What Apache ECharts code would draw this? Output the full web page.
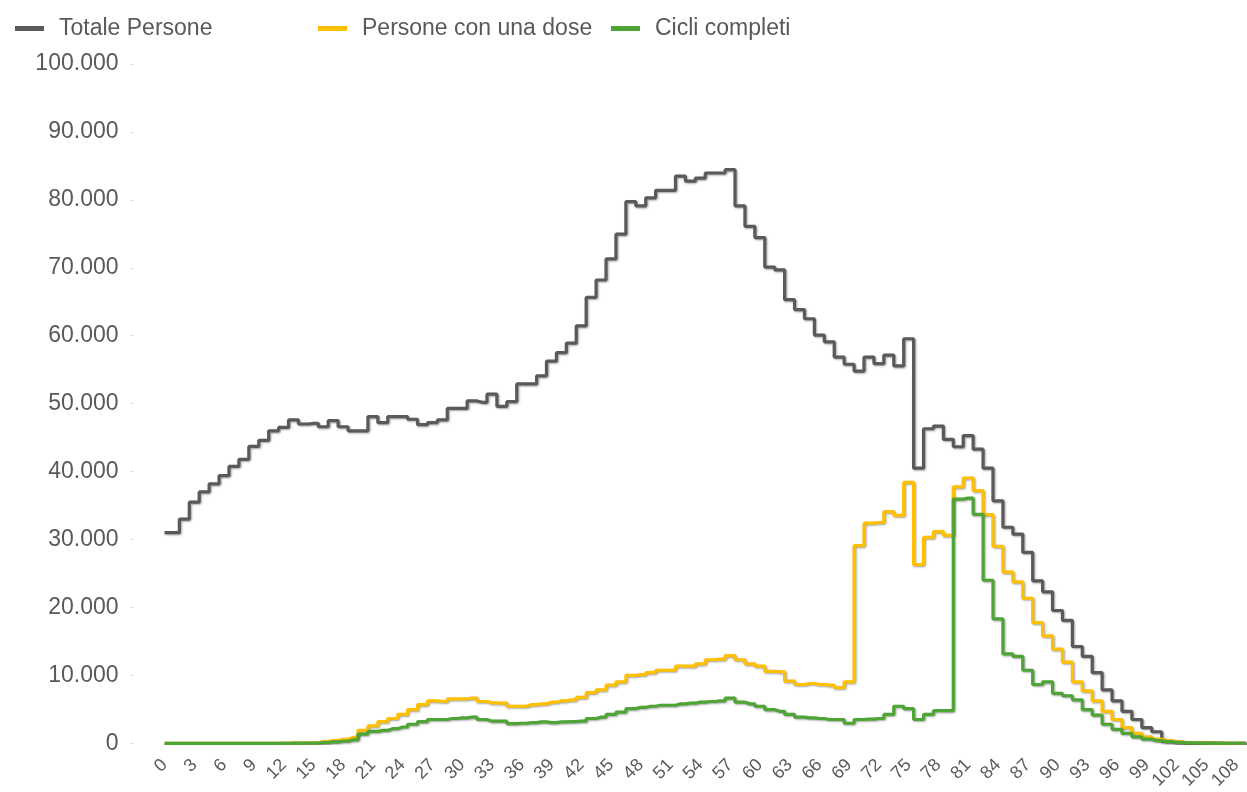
<!DOCTYPE html>
<html>
<head>
<meta charset="utf-8">
<title>Vaccinati per età</title>
<script src="https://cdn.jsdelivr.net/npm/echarts@6/dist/echarts.min.js"></script>
<style>
  html, body { margin: 0; padding: 0; background: #fff; }
  #chart { width: 1247px; height: 792px; }
</style>
</head>
<body>
<div id="chart"></div>
<script>
// età 0..109 (etichette ogni 3 anni)
const eta = []
for (let i = 0; i <= 109; i++) eta.push(String(i))

const totalePersone = [
  31000, 31000, 33000, 35500, 37000, 38200, 39400, 40750, 41800, 43700,
  44600, 46000, 46500, 47600, 47000, 47100, 46600, 47500, 46600, 46000,
  46000, 48100, 47200, 48100, 48100, 47700, 46900, 47200, 47600, 49300,
  49300, 50400, 50200, 51400, 49600, 50300, 52900, 52900, 54100, 56250,
  57500, 58900, 61450, 65650, 68200, 71300, 74950, 79750, 79100, 80300,
  81400, 81400, 83500, 82750, 83200, 83950, 83950, 84450, 79100, 76100,
  74450, 70100, 69700, 65300, 63850, 62500, 60100, 59100, 56850, 55800,
  54800, 56850, 55900, 57150, 55550, 59550, 40500, 46300, 46700, 44750,
  43650, 45300, 43300, 40500, 35700, 31800, 30800, 28100, 23900, 22300,
  19550, 18100, 14250, 12800, 10400, 7850, 6250, 4700, 3500, 2300,
  1700, 300, 150, 80, 40, 20, 10, 5, 3, 2
]

const personeUnaDose = [
  0, 0, 0, 0, 0, 0, 0, 0, 0, 0,
  0, 0, 10, 20, 40, 80, 250, 400, 580, 870,
  1900, 2550, 3200, 3650, 4250, 4950, 5700, 6250, 6150, 6550,
  6550, 6650, 6150, 5950, 5900, 5450, 5450, 5700, 5800, 6050,
  6250, 6400, 6750, 7450, 7850, 8550, 9050, 10000, 10100, 10400,
  10750, 10750, 11350, 11350, 11700, 12300, 12400, 12900, 12300, 11700,
  11350, 10600, 10500, 9150, 8650, 8800, 8650, 8550, 8200, 9050,
  29100, 32400, 32500, 34100, 33550, 38400, 26300, 30300, 31150, 30600,
  37750, 39050, 37200, 33650, 29000, 25200, 23750, 21350, 17750, 15800,
  13850, 11950, 9050, 7700, 6250, 4700, 3500, 2300, 1450, 950,
  600, 400, 200, 80, 40, 20, 10, 5, 3, 2
]

const cicliCompleti = [
  0, 0, 0, 0, 0, 0, 0, 0, 0, 0,
  0, 0, 5, 10, 20, 40, 100, 200, 300, 500,
  1350, 1750, 1900, 2150, 2400, 2800, 3200, 3500, 3500, 3650,
  3750, 3850, 3500, 3250, 3250, 2900, 2950, 3050, 3150, 3050,
  3150, 3200, 3250, 3650, 3850, 4250, 4600, 5100, 5300, 5450,
  5600, 5600, 5800, 5900, 6050, 6150, 6250, 6650, 6050, 5800,
  5450, 4950, 4700, 4250, 3850, 3750, 3650, 3500, 3500, 2950,
  3500, 3550, 3650, 4250, 5450, 5100, 3500, 4250, 4800, 4800,
  35950, 36100, 33700, 24000, 18300, 13150, 12800, 10750, 8650, 9050,
  7350, 7000, 6400, 4950, 4150, 2800, 2050, 1450, 950, 600,
  400, 250, 120, 50, 20, 10, 5, 3, 2, 1
]

const nomi = ['Totale Persone', 'Persone con una dose', 'Cicli completi']
const colori = ['#5a5a5a', '#ffc000', '#4ea535']

const chart = echarts.init(document.getElementById('chart'))

// separatore delle migliaia all'italiana
const migliaia = (v) => String(v).replace(/\B(?=(\d{3})+(?!\d))/g, '.')

const testo = { color: '#595959', fontFamily: 'Liberation Sans, Arial, sans-serif' }

const legenda = (nome, left) => ({
  data: [nome],
  left: left,
  top: 12,
  icon: 'rect',
  itemWidth: 29,
  itemHeight: 5,
  itemGap: 0,
  textStyle: Object.assign({ fontSize: 23, padding: [0, 0, 0, 10] }, testo)
})

const serie = (nome, dati, colore) => ({
  name: nome,
  type: 'line',
  step: 'middle',
  data: dati,
  symbol: 'none',
  color: colore,
  lineStyle: {
    width: 3.2,
    color: colore,
    shadowColor: 'rgba(0,0,0,0.35)',
    shadowBlur: 2,
    shadowOffsetX: 1,
    shadowOffsetY: 1
  }
})

const option = {
  animation: false,
  legend: [
    legenda(nomi[0], 10),
    legenda(nomi[1], 313),
    legenda(nomi[2], 606)
  ],
  grid: { left: 164.5, right: 1, top: 64, bottom: 36 },
  xAxis: {
    type: 'category',
    data: eta,
    boundaryGap: false,
    axisLine: { show: false },
    axisTick: { show: false },
    axisLabel: Object.assign({ interval: 2, rotate: 45, margin: 19, fontSize: 18 }, testo),
    splitLine: { show: false }
  },
  yAxis: {
    type: 'value',
    min: 0,
    max: 100000,
    interval: 10000,
    offset: 31,
    axisLine: { show: false },
    axisTick: { show: true, length: 3, lineStyle: { color: '#d9d9d9' } },
    axisLabel: Object.assign({ margin: 15, fontSize: 23, formatter: migliaia }, testo),
    splitLine: { show: false }
  },
  series: [
    serie(nomi[0], totalePersone, colori[0]),
    serie(nomi[1], personeUnaDose, colori[1]),
    serie(nomi[2], cicliCompleti, colori[2])
  ]
}

chart.setOption(option)
</script>
</body>
</html>
